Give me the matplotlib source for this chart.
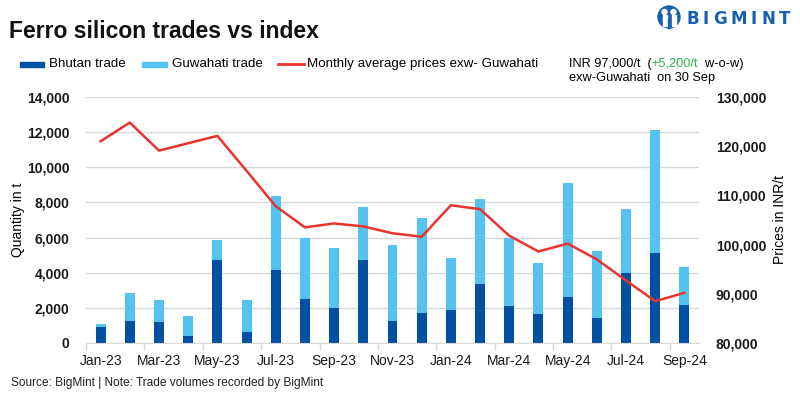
import numpy as np
import matplotlib as mpl
mpl.use("Agg")
import matplotlib.pyplot as plt
from matplotlib import font_manager
from matplotlib.patches import Rectangle, Ellipse
from matplotlib.lines import Line2D

# Pick a narrow font if we have one
names = set(f.name for f in font_manager.fontManager.ttflist)
narrow = "Liberation Sans Narrow" if "Liberation Sans Narrow" in names else "Liberation Sans"
wide = "Liberation Sans"

months = ["Jan-23", "Feb-23", "Mar-23", "Apr-23", "May-23", "Jun-23", "Jul-23",
          "Aug-23", "Sep-23", "Oct-23", "Nov-23", "Dec-23", "Jan-24", "Feb-24",
          "Mar-24", "Apr-24", "May-24", "Jun-24", "Jul-24", "Aug-24", "Sep-24"]
bhutan = [900, 1280, 1220, 420, 4700, 600, 4130, 2530, 2020, 4750, 1280,
          1730, 1900, 3380, 2130, 1670, 2640, 1440, 4010, 5150, 2190]
total = [1100, 2870, 2420, 1560, 5890, 2420, 8340, 5950, 5380, 7720, 5550,
         7090, 4860, 8170, 6000, 4580, 9080, 5210, 7600, 12100, 4300]
guwahati = [t - b for t, b in zip(total, bhutan)]
price = [121000, 124800, 119100, 120600, 122100, 115000, 107800, 103500,
         104300, 103700, 102300, 101600, 108000, 107200, 101800, 98600,
         100200, 97000, 92700, 88500, 90200]

dark = "#0150A1"
light = "#55C3F0"
red = "#E8332F"
grid = "#D9D9D9"

W, H = 800, 398
fig = plt.figure(figsize=(8, 3.98), dpi=100)

def fx(px):
    return px / W

def fy(py):
    return 1 - py / H

ax = fig.add_axes([fx(86), fy(343), fx(699 - 86), (343 - 97) / H])
x = np.arange(len(months))

ax.bar(x, bhutan, width=0.34, color=dark, zorder=2)
ax.bar(x, guwahati, width=0.34, bottom=bhutan, color=light, zorder=2)

ax.set_xlim(-0.5, len(months) - 0.5)
ax.set_ylim(0, 14000)
ax.set_yticks(np.arange(0, 14001, 2000))
ax.set_yticklabels(["{:,}".format(v) for v in range(0, 14001, 2000)],
                   fontweight="bold", fontsize=10, family=wide, color="#1a1a1a")
ax.yaxis.grid(True, color=grid, lw=1, zorder=0)
ax.tick_params(axis="y", length=0, pad=12)

ax.set_xticks(x[::2])
ax.set_xticklabels(months[::2], fontsize=10, family=narrow, color="#1a1a1a")
ax.set_xticks(np.arange(-0.5, len(months) - 1, 2), minor=True)
ax.tick_params(axis="x", which="major", length=0, pad=8)
ax.tick_params(axis="x", which="minor", length=5, color=grid, width=1)

for s in ["top", "left", "right"]:
    ax.spines[s].set_visible(False)
ax.spines["bottom"].set_color(grid)
ax.set_ylabel("Quantity in t", fontsize=10, family=narrow, labelpad=1)

ax2 = ax.twinx()
ax2.plot(x, price, color=red, lw=1.8, zorder=3)
ax2.set_ylim(80000, 130000)
ax2.set_yticks(np.arange(80000, 130001, 10000))
ax2.set_yticklabels(["{:,}".format(v) for v in range(80000, 130001, 10000)],
                    fontweight="bold", fontsize=10, family=wide, color="#1a1a1a")
ax2.tick_params(axis="y", length=0, pad=12)
for s in ["top", "left", "right", "bottom"]:
    ax2.spines[s].set_visible(False)
ax2.set_ylabel("Prices in INR/t", fontsize=10, family=narrow, labelpad=5)

# Title
fig.text(fx(9), fy(31), "Ferro silicon trades vs index", fontsize=16.5,
         fontweight="bold", family=narrow, va="center", ha="left", color="#111")

# Legend drawn by hand
ly = fy(64)
fig.patches.append(Rectangle((fx(20), ly - 2.5 / H), fx(24), 5 / H,
                             transform=fig.transFigure, color=dark))
fig.text(fx(49), ly, "Bhutan trade", fontsize=9.6, family=narrow, va="center")
fig.patches.append(Rectangle((fx(142), ly - 2.5 / H), fx(25), 5 / H,
                             transform=fig.transFigure, color=light))
fig.text(fx(172), ly, "Guwahati trade", fontsize=9.6, family=narrow, va="center")
fig.lines.append(Line2D([fx(278), fx(304)], [ly, ly], transform=fig.transFigure,
                        color=red, lw=2))
fig.text(fx(307), ly, "Monthly average prices exw- Guwahati", fontsize=9.6,
         family=narrow, va="center")

# Price note with green change
fig.canvas.draw()
r = fig.canvas.get_renderer()
t1 = fig.text(fx(569), ly, "INR 97,000/t  (", fontsize=9.2, family=wide, va="center")
bb = t1.get_window_extent(r)
t2 = fig.text(bb.x1 / W, ly, "+5,200/t", fontsize=9.2, family=wide, va="center",
              color="#2BB24C")
bb = t2.get_window_extent(r)
fig.text(bb.x1 / W, ly, "  w-o-w)", fontsize=9.2, family=wide, va="center")
fig.text(fx(569), fy(78), "exw-Guwahati  on 30 Sep", fontsize=9.2, family=wide,
         va="center")

# Logo: round icon plus spaced letters
logo = "#1660B0"
cx, cy = 669, 17
fig.patches.append(Ellipse((fx(cx), fy(cy)), 22 / W, 22 / H,
                           transform=fig.transFigure, color=logo))
for dx in (-4.5, 4.5):
    fig.patches.append(Ellipse((fx(cx + dx), fy(cy - 5)), 5 / W, 5 / H,
                               transform=fig.transFigure, color="white"))
    fig.patches.append(Rectangle((fx(cx + dx - 2), fy(cy + 9)), fx(4), 11 / H,
                                 transform=fig.transFigure, color="white"))
fig.patches.append(Rectangle((fx(cx - 1), fy(cy + 11)), fx(2), 9 / H,
                             transform=fig.transFigure, color=logo))
px = 686
for ch in "BIGMINT":
    t = fig.text(fx(px), fy(19), ch, fontsize=12, fontweight="bold",
                 family="DejaVu Sans", color=logo, va="center", ha="left")
    px += t.get_window_extent(r).width + 4

# Footer
fig.text(fx(11), fy(383), "Source: BigMint | Note: Trade volumes recorded by BigMint",
         fontsize=8.6, family=narrow, va="center", color="#222")

fig.savefig("out.png", dpi=100)
